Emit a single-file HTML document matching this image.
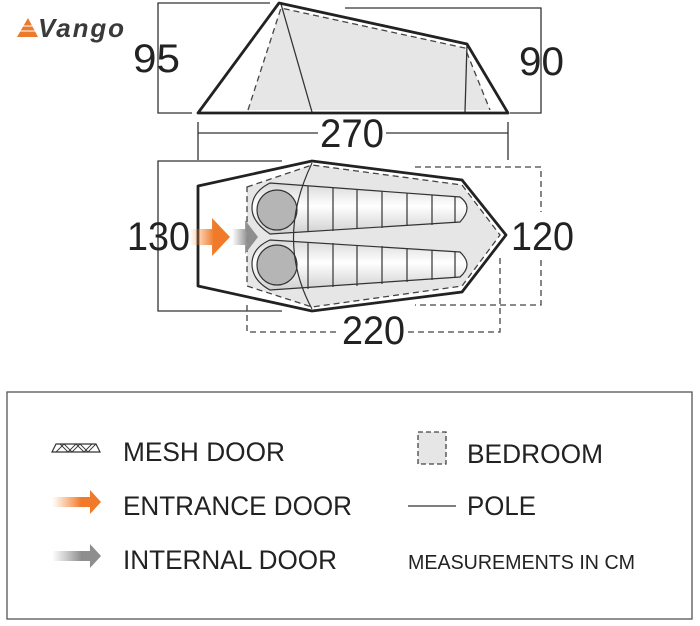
<!DOCTYPE html>
<html><head><style>body{margin:0;background:#fff}svg{display:block}text{font-family:"Liberation Sans",sans-serif;fill:#222}</style></head><body>
<svg width="700" height="626" viewBox="0 0 700 626">
<defs>
<linearGradient id="og" x1="0" x2="1"><stop offset="0" stop-color="#f58a3c" stop-opacity="0"/><stop offset="0.6" stop-color="#f07a2a"/></linearGradient>
<linearGradient id="gg" x1="0" x2="1"><stop offset="0" stop-color="#999" stop-opacity="0"/><stop offset="0.6" stop-color="#8e8e8e"/></linearGradient>
<linearGradient id="bag" x1="0" y1="0" x2="0" y2="1"><stop offset="0" stop-color="#d8d8d8"/><stop offset="0.45" stop-color="#fff"/><stop offset="1" stop-color="#d0d0d0"/></linearGradient>
</defs>
<!-- logo -->
<polygon points="17,37 28,18 38,37" fill="#ec7a2c"/>
<line x1="20" y1="31" x2="36" y2="31" stroke="#fff" stroke-width="1"/>
<line x1="23" y1="26" x2="33" y2="26" stroke="#fff" stroke-width="1"/>
<text x="38" y="37" font-size="26" font-weight="bold" font-style="italic" style="fill:#3a3a3a" textLength="86">Vango</text>
<!-- side view -->
<g fill="none" stroke="#333" stroke-width="1.3">
<polyline points="270,3 158,3 158,113 192,113"/>
<polyline points="345,8 541,8 541,113 510,113"/>
</g>
<polygon points="281,8 465,48 490,110 248,110" fill="#e6e6e6"/>
<polyline points="248,110 281,8 465,48 490,110" fill="none" stroke="#444" stroke-width="1.3" stroke-dasharray="6,4"/>
<line x1="281" y1="4" x2="312" y2="112" stroke="#333" stroke-width="1.3"/>
<line x1="467" y1="44" x2="465" y2="112" stroke="#333" stroke-width="1.3"/>
<polygon points="198,113 279,3 467,44 508,113" fill="none" stroke="#222" stroke-width="2.8" stroke-linejoin="round"/>
<text x="133" y="72" font-size="40" textLength="47" lengthAdjust="spacingAndGlyphs">95</text>
<text x="519" y="75" font-size="40" textLength="45" lengthAdjust="spacingAndGlyphs">90</text>
<!-- 270 -->
<g stroke="#333" stroke-width="1.3">
<line x1="198" y1="122" x2="198" y2="160"/><line x1="508" y1="122" x2="508" y2="160"/>
<line x1="198" y1="133" x2="318" y2="133"/><line x1="386" y1="133" x2="508" y2="133"/>
</g>
<text x="320" y="147" font-size="40" textLength="64" lengthAdjust="spacingAndGlyphs">270</text>
<!-- plan -->
<polyline points="282,161 158,161 158,311 282,311" fill="none" stroke="#333" stroke-width="1.3"/>
<polyline points="415,167 541,167 541,212" fill="none" stroke="#444" stroke-width="1.3" stroke-dasharray="6,4"/>
<polyline points="541,260 541,305 415,305" fill="none" stroke="#444" stroke-width="1.3" stroke-dasharray="6,4"/>
<polygon points="247,187 312,165 462,185 500,235 462,286 312,307 247,286" fill="#e6e6e6" stroke="#444" stroke-width="1.3" stroke-dasharray="6,4"/>
<polyline points="247,305 247,332 338,332" fill="none" stroke="#444" stroke-width="1.3" stroke-dasharray="6,4"/>
<polyline points="408,332 500,332 500,258" fill="none" stroke="#444" stroke-width="1.3" stroke-dasharray="6,4"/>
<!-- bags -->
<g stroke="#333" stroke-width="1.2">
<path d="M270,183 L460,197 Q474,207 460,222 L270,234 Q252,222 252,208 Q252,192 270,183Z" fill="url(#bag)"/>
<path d="M270,240 L460,252 Q474,265 460,277 L270,290 Q252,280 252,264 Q252,248 270,240Z" fill="url(#bag)"/>
<circle cx="277" cy="210" r="20" fill="#b5b5b5"/>
<circle cx="277" cy="265" r="20" fill="#b5b5b5"/>
<g fill="none"><path d="M308,186V232M333,188V231M357,190V229M382,191V228M407,193V226M432,195V225M455,197V223"/>
<path d="M308,242V289M333,243V287M357,245V286M382,246V284M407,248V282M432,250V280M455,251V278"/>
<path d="M312,163 Q275,240 312,309"/></g>
</g>
<polygon points="198,186 312,161 462,180 506,235 462,292 312,311 198,286" fill="none" stroke="#222" stroke-width="2.8" stroke-linejoin="round"/>
<polygon points="190,229 212,229 212,218 230,237 212,256 212,245 190,245" fill="url(#og)"/>
<polygon points="232,229 245,229 245,220 258,237 245,254 245,245 232,245" fill="url(#gg)"/>
<text x="127" y="250" font-size="40" textLength="63" lengthAdjust="spacingAndGlyphs">130</text>
<text x="511" y="250" font-size="40" textLength="63" lengthAdjust="spacingAndGlyphs">120</text>
<text x="342" y="344" font-size="40" textLength="63" lengthAdjust="spacingAndGlyphs">220</text>
<!-- legend -->
<rect x="7" y="392" width="685" height="227" fill="none" stroke="#555" stroke-width="1.3"/>
<polygon points="52,452 56,444 96,444 100,452" fill="#fff" stroke="#333" stroke-width="1.2"/>
<path d="M56,452 L64,444 L72,452 L80,444 L88,452 L96,444 M60,444 L68,452 L76,444 L84,452 L92,444" stroke="#333" stroke-width="0.9" fill="none"/>
<polygon points="52,497 90,497 90,490 101,502 90,514 90,507 52,507" fill="url(#og)"/>
<polygon points="52,551 90,551 90,544 101,556 90,568 90,561 52,561" fill="url(#gg)"/>
<text x="123" y="461" font-size="27" textLength="162" lengthAdjust="spacingAndGlyphs">MESH DOOR</text>
<text x="123" y="515" font-size="27" textLength="229" lengthAdjust="spacingAndGlyphs">ENTRANCE DOOR</text>
<text x="123" y="569" font-size="27" textLength="214" lengthAdjust="spacingAndGlyphs">INTERNAL DOOR</text>
<rect x="418" y="432" width="28" height="32" fill="#e6e6e6" stroke="#444" stroke-width="1.3" stroke-dasharray="5,3"/>
<text x="467" y="463" font-size="27" textLength="136" lengthAdjust="spacingAndGlyphs">BEDROOM</text>
<line x1="408" y1="506" x2="456" y2="506" stroke="#333" stroke-width="1.3"/>
<text x="467" y="515" font-size="27" textLength="69" lengthAdjust="spacingAndGlyphs">POLE</text>
<text x="408" y="569" font-size="20" textLength="227" lengthAdjust="spacingAndGlyphs">MEASUREMENTS IN CM</text>
</svg>
</body></html>
